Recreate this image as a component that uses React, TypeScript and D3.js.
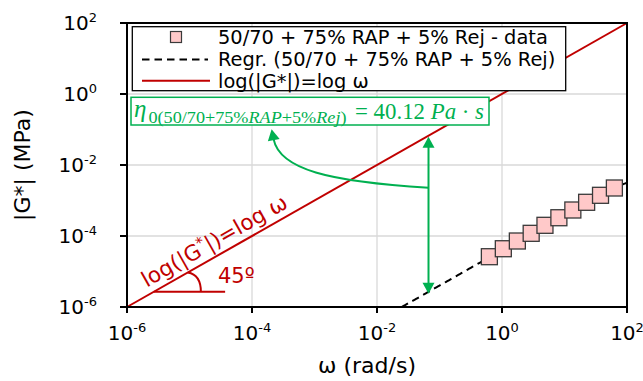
import React from "react";
import * as d3 from "d3";

const W = 643;
const H = 381;

// axis ticks
const tickValues = [1e-6, 1e-4, 1e-2, 1, 1e2];
const tickExponents = ["-6", "-4", "-2", "0", "2"];

// measured data: angular frequency (rad/s) and |G*| (MPa)
const omega = [0.628, 1.05, 1.76, 2.93, 4.87, 8.13, 13.6, 22.6, 37.7, 62.8];
const gStar = [2.61e-5, 4.38e-5, 7.23e-5, 1.19e-4, 2.0e-4, 3.27e-4, 5.4e-4, 8.9e-4, 1.4e-3, 2.25e-3];

// regression (Cross-type) parameters
const eta0PaS = 40.12;
const crossLambda = 0.00436;
const crossM = 1.6;

const seriesLabel = "50/70 + 75% RAP + 5% Rej - data";
const regrLabel = "Regr. (50/70 + 75% RAP + 5% Rej)";
const lineLabel = "log(|G*|)=log ω";

// annotation anchors (data space)
const arrowOmega = 0.0667;
const curveStartG = 2.3e-3;
const curveTip = [2.06e-4, 0.101];
const angleMarkG = 10 ** -5.57;
const angleMarkEndOmega = 10 ** -4.43;
const labelStartOmega = 10 ** -5.63;

const RED = "#C00000";
const GREEN = "#00B050";
const FONT = "DejaVu Sans";
const SERIF = "Liberation Serif";

function arrowHead(tx: number, ty: number, angle: number, len = 11, half = 6) {
  const bx = tx - len * Math.cos(angle);
  const by = ty - len * Math.sin(angle);
  const px = -Math.sin(angle) * half;
  const py = Math.cos(angle) * half;
  return `M${tx},${ty}L${bx + px},${by + py}L${bx - px},${by - py}Z`;
}

export default function App() {
  const x = d3.scaleLog().domain([1e-6, 1e2]).range([127, 627]);
  const y = d3.scaleLog().domain([1e-6, 1e2]).range([307, 23]);
  const [x0, x1] = x.range();
  const [y0, y1] = y.range();

  const regr = (w: number) => (eta0PaS * 1e-6 * w) / (1 + Math.pow(crossLambda * w, crossM));
  const regrOmegas = d3.range(0, 201).map((i) => Math.pow(10, -3 + (i * 5) / 200));
  const line = d3
    .line<[number, number]>()
    .x((d) => x(d[0]))
    .y((d) => y(d[1]));
  const regrPath = line(regrOmegas.map((w) => [w, regr(w)] as [number, number])) || "";
  const idPath =
    line([
      [1e-6, 1e-6],
      [1e2, 1e2],
    ]) || "";

  const ang = Math.atan2(y(1e2) - y(1e-6), x(1e2) - x(1e-6));
  const angDeg = (ang * 180) / Math.PI;

  // vertical arrow
  const ax = x(arrowOmega);
  const aTop = y(arrowOmega) + 1;
  const aBot = y(regr(arrowOmega)) + 2;

  // curved arrow
  const sx = ax;
  const sy = y(curveStartG);
  const ex = x(curveTip[0]);
  const ey = y(curveTip[1]);
  const c2x = ex + 8;
  const c2y = ey + 40;
  const endAngle = Math.atan2(ey - c2y, ex - c2x);
  const baseX = ex - 10 * Math.cos(endAngle);
  const baseY = ey - 10 * Math.sin(endAngle);
  const curvePath = `M${sx},${sy}C${sx - 100},${sy - 6} ${c2x},${c2y} ${baseX},${baseY}`;

  // angle mark
  const amY = y(angleMarkG);
  const amX0 = x0 + (y0 - amY) / Math.tan(-ang);
  const amX1 = x(angleMarkEndOmega);
  const arcStartX = amX0 + 47;
  const arcEndX = amX0 + 34;
  const arcEndY = amY - 34 * Math.tan(-ang);
  const arcPath = `M${arcStartX},${amY}Q${arcStartX},${amY - 17} ${arcEndX},${arcEndY}`;

  // rotated label anchor
  const lx = x(labelStartOmega);
  const ly = y(labelStartOmega);
  const off = 7;
  const lxo = lx + off * Math.sin(ang);
  const lyo = ly - off * Math.cos(ang);

  const half = 8;

  return (
    <svg
      width={W}
      height={H}
      style={{ position: "absolute", left: 0, top: 0, background: "#fff" }}
      fontFamily={FONT}
    >
      <defs>
        <clipPath id="plotClip">
          <rect x={x0} y={y1} width={x1 - x0} height={y0 - y1} />
        </clipPath>
      </defs>
      <rect x={0} y={0} width={W} height={H} fill="#fff" />

      {/* gridlines */}
      {tickValues.slice(1, -1).map((t, i) => (
        <g key={"g" + i}>
          <line x1={x(t)} x2={x(t)} y1={y1} y2={y0} stroke="#D9D9D9" strokeWidth={1.3} />
          <line x1={x0} x2={x1} y1={y(t)} y2={y(t)} stroke="#D9D9D9" strokeWidth={1.3} />
        </g>
      ))}

      {/* regression line */}
      <path
        d={regrPath}
        clipPath="url(#plotClip)"
        fill="none"
        stroke="#000"
        strokeWidth={2}
        strokeDasharray="7.5,5"
      />

      {/* identity line */}
      <path d={idPath} fill="none" stroke={RED} strokeWidth={2} />

      {/* data markers */}
      {omega.map((w, i) => (
        <rect
          key={"d" + i}
          x={x(w) - half}
          y={y(gStar[i]) - half}
          width={half * 2}
          height={half * 2}
          fill="#FFC9C9"
          stroke="#3a3a3a"
          strokeWidth={1.3}
        />
      ))}

      {/* frame */}
      <rect x={x0} y={y1} width={x1 - x0} height={y0 - y1} fill="none" stroke="#000" strokeWidth={2} />

      {/* ticks and labels */}
      {tickValues.map((t, i) => (
        <g key={"t" + i}>
          <line x1={x(t)} x2={x(t)} y1={y0} y2={y0 + 6} stroke="#000" strokeWidth={2} />
          <line x1={x0 - 7} x2={x0} y1={y(t)} y2={y(t)} stroke="#000" strokeWidth={2} />
          <text x={x(t)} y={340} textAnchor="middle" fontSize={20} fill="#000">
            10
            <tspan dy={-8} fontSize={13}>
              {tickExponents[i]}
            </tspan>
          </text>
          <text x={97} y={y(t) + 7} textAnchor="end" fontSize={20} fill="#000">
            10
            <tspan dy={-8} fontSize={13}>
              {tickExponents[i]}
            </tspan>
          </text>
        </g>
      ))}

      {/* axis titles */}
      <text x={367} y={373} textAnchor="middle" fontSize={22} fill="#000">
        ω (rad/s)
      </text>
      <text
        transform={`translate(30,${(y0 + y1) / 2}) rotate(-90)`}
        textAnchor="middle"
        fontSize={22}
        fill="#000"
      >
        |G*| (MPa)
      </text>

      {/* legend */}
      <rect x={132.3} y={26.7} width={433.4} height={64} fill="#fff" stroke="#000" strokeWidth={1.3} />
      <rect x={176 - 5.5} y={37 - 5.5} width={11} height={11} fill="#FFC9C9" stroke="#3a3a3a" strokeWidth={1.2} />
      <line x1={142} x2={208} y1={59.5} y2={59.5} stroke="#000" strokeWidth={2} strokeDasharray="7.5,5" />
      <line x1={142} x2={210} y1={80.7} y2={80.7} stroke={RED} strokeWidth={2} />
      <text x={218} y={44} fontSize={19.4} fill="#000">
        {seriesLabel}
      </text>
      <text x={218} y={66} fontSize={19.4} fill="#000">
        {regrLabel}
      </text>
      <text x={218} y={87.5} fontSize={19.4} fill="#000">
        {lineLabel}
      </text>

      {/* green annotation box */}
      <rect x={131} y={97.3} width={358} height={27.7} fill="#fff" stroke={GREEN} strokeWidth={1.5} />
      <text x={134} y={117} fontFamily={SERIF} fontStyle="italic" fontSize={25} fill={GREEN}>
        η
      </text>
      <text
        x={148.5}
        y={122.5}
        fontFamily={SERIF}
        fontSize={16.5}
        fill={GREEN}
        textLength={198}
        lengthAdjust="spacingAndGlyphs"
      >
        0(50/70+75%<tspan fontStyle="italic">RAP</tspan>+5%<tspan fontStyle="italic">Rej</tspan>)
      </text>
      <text
        x={355}
        y={119.3}
        fontFamily={SERIF}
        fontSize={23.5}
        fill={GREEN}
        textLength={129}
        lengthAdjust="spacingAndGlyphs"
      >
        = 40.12 <tspan fontStyle="italic">Pa</tspan> · <tspan fontStyle="italic">s</tspan>
      </text>

      {/* green arrows */}
      <line x1={ax} x2={ax} y1={aTop + 10} y2={aBot - 10} stroke={GREEN} strokeWidth={2} />
      <path d={arrowHead(ax, aTop, -Math.PI / 2)} fill={GREEN} />
      <path d={arrowHead(ax, aBot, Math.PI / 2)} fill={GREEN} />
      <path d={curvePath} fill="none" stroke={GREEN} strokeWidth={2} />
      <path d={arrowHead(ex, ey, endAngle)} fill={GREEN} />

      {/* 45 degree mark */}
      <line x1={amX0} x2={amX1} y1={amY} y2={amY} stroke={RED} strokeWidth={2} />
      <path d={arcPath} fill="none" stroke={RED} strokeWidth={2} />
      <text x={218} y={283} fontSize={21} fill={RED}>
        45º
      </text>

      {/* rotated identity label */}
      <text transform={`translate(${lxo},${lyo}) rotate(${angDeg})`} fontSize={21.5} fill={RED}>
        log(|G<tspan dy={-8} fontSize={15}>*</tspan>
        <tspan dy={8}>|)=log ω</tspan>
      </text>
    </svg>
  );
}
